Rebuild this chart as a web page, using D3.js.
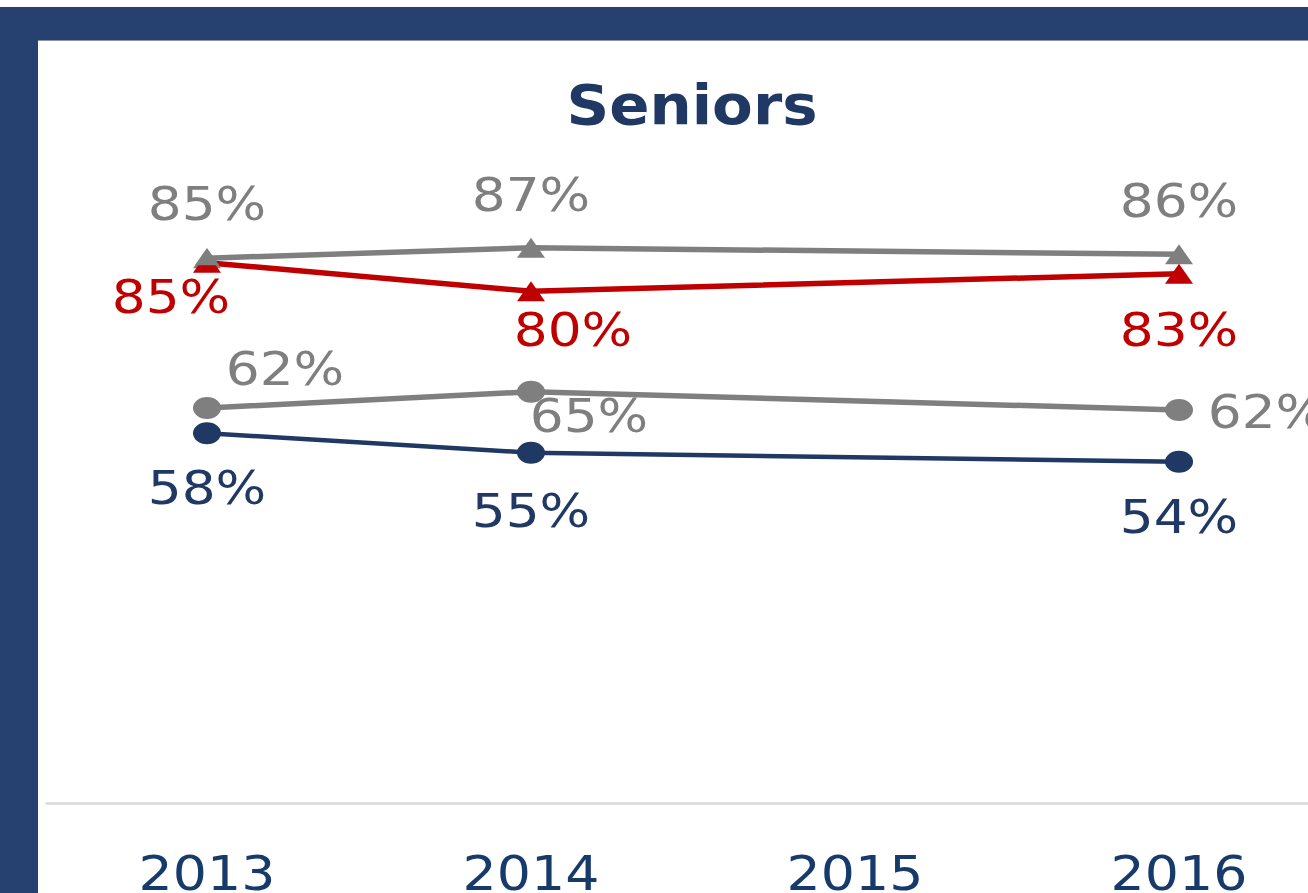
<!DOCTYPE html>
<html>
<head>
<meta charset="utf-8">
<script src="https://cdn.jsdelivr.net/npm/d3@7"></script>
<style>
  html, body { margin: 0; padding: 0; background: #ffffff; overflow: hidden; }
  text { font-family: "DejaVu Sans", sans-serif; }
</style>
</head>
<body>
<script>
'use strict';

// categories (x axis)
const years = ["2013", "2014", "2015", "2016"];

// series values in percent (null = no data for that year)
const grayTriangle = [85.4, 87.0, null, 86.0];
const redTriangle = [84.7, 80.3, null, 83.0];
const grayCircle = [62.3, 64.8, null, 62.0];
const navyCircle = [58.4, 55.4, null, 54.0];

// page layout
const W = 1308, H = 893;
const frame = { top: 7, band: 33, left: 38 };
const plot = { left: 45, right: 1341, bottom: 803, zeroY: 812, topY: 163.5 };

const navy = "#203864";
const gray = "#7f7f7f";
const red = "#c00000";
const textStretch = 1.16;

// how each series looks and where its labels sit (relative to the point)
const series = [
  { values: grayTriangle, color: gray, shape: "triangle",
    labels: [[0, -38], [0, -37], null, [0, -37]] },
  { values: redTriangle, color: red, shape: "triangle",
    labels: [[-36, 50], [42, 55], null, [0, 72]] },
  { values: grayCircle, color: gray, shape: "circle",
    labels: [[78, -23], [58, 40], null, [88, 18]] },
  { values: navyCircle, color: navy, shape: "circle",
    labels: [[0, 71], [0, 74], null, [0, 71]] }
];

const svg = d3.select("body").append("svg")
  .attr("width", W)
  .attr("height", H);

// navy frame
svg.append("rect").attr("x", 0).attr("y", 0).attr("width", W).attr("height", H).attr("fill", "#ffffff");
svg.append("rect").attr("x", 0).attr("y", frame.top).attr("width", W).attr("height", frame.band).attr("fill", "#26416f");
svg.append("rect").attr("x", 0).attr("y", frame.top).attr("width", frame.left).attr("height", H).attr("fill", "#26416f");
svg.append("line")
  .attr("x1", frame.left).attr("x2", W)
  .attr("y1", frame.top + frame.band + 0.5).attr("y2", frame.top + frame.band + 0.5)
  .attr("stroke", "#8a93a8").attr("stroke-width", 1);

// scales
const xScale = d3.scaleBand()
  .domain(years)
  .range([plot.left, plot.right])
  .padding(0);
const xPos = (i) => xScale(years[i]) + xScale.bandwidth() / 2;

const yScale = d3.scaleLinear()
  .domain([0, 100])
  .range([plot.zeroY, plot.topY]);

// title
svg.append("text")
  .attr("transform", `translate(692, 124) scale(1.06, 1)`)
  .attr("text-anchor", "middle")
  .attr("font-weight", "bold")
  .attr("font-size", 56)
  .attr("fill", navy)
  .text("Seniors");

// x axis
const xAxis = d3.axisBottom(xScale).tickSize(0).tickPadding(0);
const gx = svg.append("g")
  .attr("transform", `translate(0, ${plot.bottom})`)
  .call(xAxis);
gx.select(".domain").attr("stroke", "#d9d9d9").attr("stroke-width", 2.5);
gx.selectAll(".tick text")
  .attr("y", 0)
  .attr("dy", 0)
  .attr("font-size", 48)
  .attr("font-family", "DejaVu Sans, sans-serif")
  .attr("fill", "#163a6a")
  .attr("transform", `translate(0, 87) scale(1.12, 1)`);

// lines (gaps are bridged, as in the original)
const line = d3.line()
  .x((d) => xPos(d.i))
  .y((d) => yScale(d.v));

const pct = d3.format(".0%");
const points = (arr) => arr.map((v, i) => ({ v: v, i: i })).filter((d) => d.v != null);

series.forEach((s) => {
  svg.append("path")
    .datum(points(s.values))
    .attr("fill", "none")
    .attr("stroke", s.color)
    .attr("stroke-width", s.color === navy ? 4.5 : 5.5)
    .attr("d", line);
});

// markers
series.forEach((s) => {
  const pts = points(s.values);
  if (s.shape === "triangle") {
    svg.selectAll(null)
      .data(pts)
      .enter()
      .append("path")
      .attr("d", "M0,-10 L14,10 L-14,10 Z")
      .attr("transform", (d) => `translate(${xPos(d.i)}, ${yScale(d.v)})`)
      .attr("fill", s.color);
  } else {
    svg.selectAll(null)
      .data(pts)
      .enter()
      .append("ellipse")
      .attr("cx", (d) => xPos(d.i))
      .attr("cy", (d) => yScale(d.v))
      .attr("rx", 14)
      .attr("ry", 11)
      .attr("fill", s.color);
  }
});

// the 2013 gray triangle sits over the red line
svg.selectAll(null)
  .data(points(grayTriangle).filter((d) => d.i === 0))
  .enter()
  .append("path")
  .attr("d", "M0,-10 L12,7 L-12,7 Z")
  .attr("transform", (d) => `translate(${xPos(d.i)}, ${yScale(d.v)})`)
  .attr("fill", gray);

// data labels
series.forEach((s) => {
  s.values.forEach((v, i) => {
    if (v == null || !s.labels[i]) return;
    const [dx, dy] = s.labels[i];
    svg.append("text")
      .attr("transform", `translate(${xPos(i) + dx}, ${yScale(v) + dy}) scale(${textStretch}, 1)`)
      .attr("text-anchor", "middle")
      .attr("font-size", 46)
      .attr("fill", s.color)
      .text(pct(Math.round(v) / 100));
  });
});
</script>
</body>
</html>
